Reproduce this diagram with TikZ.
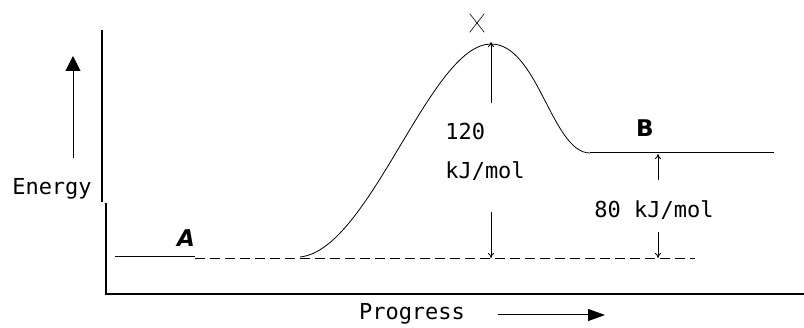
\documentclass[tikz,border=0pt]{standalone}
\usepackage{fontspec}
\newfontfamily\pixfont{DejaVu Sans Mono}
\newfontfamily\labfont{DejaVu Sans}
\usetikzlibrary{arrows.meta,shapes.misc}
\begin{document}
\begin{tikzpicture}[x=1pt,y=-1pt,
  txt/.style={inner sep=0pt, align=left, font=\pixfont\fontsize{22}{39}\selectfont},
  lab/.style={inner sep=0pt, font=\labfont\bfseries\fontsize{23}{26}\selectfont},
  gap/.style={-{To[length=5pt,width=6pt]}, line width=0.8pt},
  big/.style={-{Triangle[length=15pt,width=15pt]}, line width=1pt}
]
\useasboundingbox (0,0) rectangle (804,328);
% axes
\draw[line width=1.2pt] (102,30) -- (102,202);
\draw[line width=1.2pt] (106,203) -- (106,294) -- (804,294);
% levels and curve
\coordinate (a0) at (115,257);
\coordinate (a1) at (195,257);
\coordinate (c0) at (300,257);
\coordinate (peak) at (491,44);
\coordinate (c1) at (590,153);
\coordinate (b1) at (774,153);
\draw[line width=1pt] (a0) -- (a1);
\draw[line width=1pt, dash pattern=on 10pt off 5pt] (195,259) -- (695,259);
\draw[line width=0.8pt] (c0) .. controls (370,250) and (430,44) .. (peak)
  .. controls (538,44) and (552,153) .. (c1);
\draw[line width=1pt] (c1) -- (b1);
% labels
\node[lab] (A) at (186,238) {\itshape A};
\node[lab] (B) at (645,128) {B};
\node[cross out, draw, line width=0.6pt, minimum width=14pt, minimum height=18pt, inner sep=0pt] (X) at (477,23) {};
\node[txt] (ea) at (485,152) {120\\kJ/mol};
\node[txt] (dh) at (654,210) {80 kJ/mol};
\node[txt] (energy) at (52,189) {Energy};
\node[txt] (progress) at (412,314) {Progress};
% arrows
\coordinate (e0) at (73,158);
\coordinate (e1) at (73,56);
\coordinate (p0) at (498,315);
\coordinate (p1) at (605,315);
\draw[big] (e0) -- (e1);
\draw[big, -{Triangle[length=17pt,width=12pt]}] (p0) -- (p1);
\coordinate (u0) at (491,103);
\coordinate (u1) at (491,212);
\coordinate (u2) at (491,258);
\draw[gap] (u0) -- ([yshift=2pt]peak);
\draw[gap] (u1) -- (u2);
\coordinate (v0) at (658,180);
\coordinate (v1) at (658,154);
\coordinate (v2) at (658,232);
\coordinate (v3) at (658,258);
\draw[gap] (v0) -- (v1);
\draw[gap] (v2) -- (v3);
\end{tikzpicture}
\end{document}
